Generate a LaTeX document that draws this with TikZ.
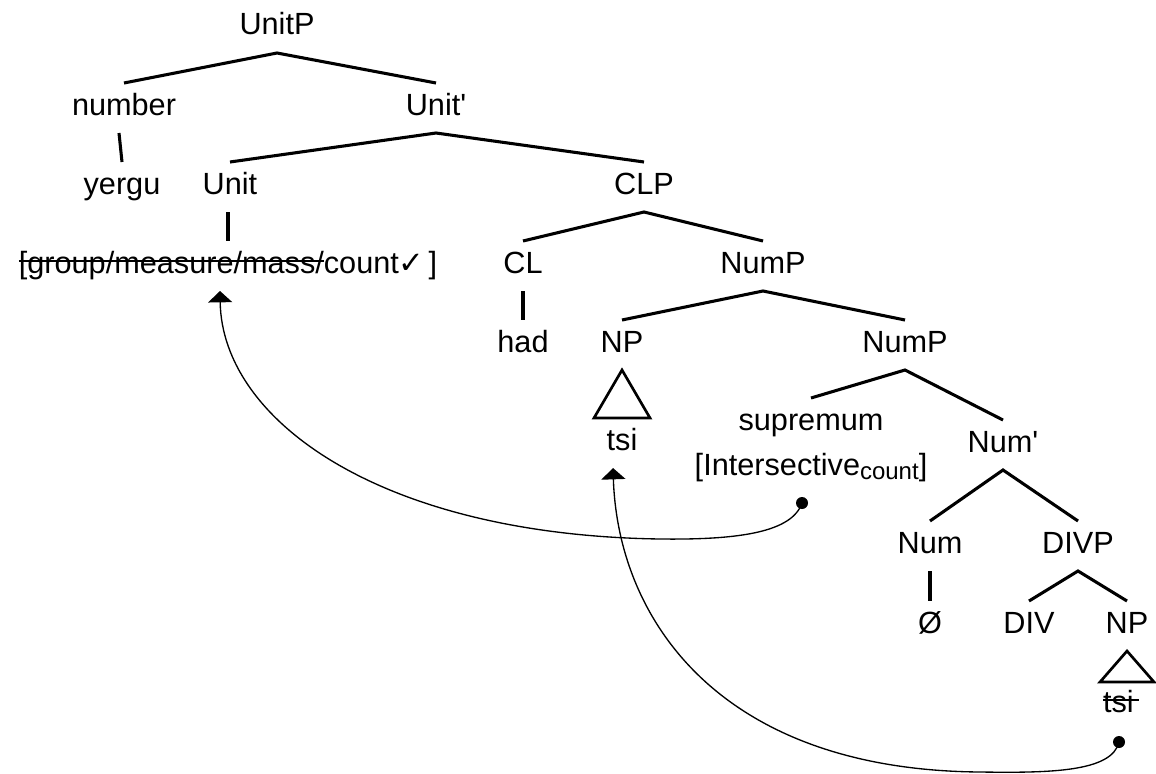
\documentclass[tikz,border=0pt]{standalone}
\usepackage{fontspec}
\setmainfont{Liberation Sans}
\newfontfamily\symfont{DejaVu Sans}
\usetikzlibrary{calc,arrows.meta}

% struck-through text: a rule laid over the box
\newcommand\struck[1]{\setbox0\hbox{#1}\rlap{\rule[0.36em]{\wd0}{1.5pt}}\box0}

\tikzset{
  lab/.style={font=\fontsize{23}{28}\selectfont, anchor=base,
    text height=16.5pt, text depth=6pt, inner ysep=7.5pt, inner xsep=1pt, outer sep=0pt},
  branch/.style={line width=2.3pt},
  tri/.style={line width=2pt, line join=miter},
  link/.style={line width=1pt, -{Triangle[width=18pt,length=8.5pt]}},
  dot/.style={fill=black}
}

\begin{document}
\begin{tikzpicture}[x=0.75pt, y=-0.75pt]
\useasboundingbox (0,0) rectangle (1156,774);

% labels (placed by baseline)
\node[lab] (UnitP)  at (277,35)  {UnitP};
\node[lab] (number) at (124,115) {number};
\node[lab] (Unitb)  at (436,115) {Unit\textquotesingle};
\node[lab] (yergu)  at (122,194) {yergu};
\node[lab] (Unit)   at (230,194) {Unit};
\node[lab] (CLP)    at (644,194) {CLP};
\node[lab] (feat)   at (228,273) {\struck{[group/measure/mass/}count{\symfont\bfseries ✓}\kern3pt]};
\node[lab] (CL)     at (523,273) {CL};
\node[lab] (NumP)   at (763,273) {NumP};
\node[lab] (had)    at (523,352) {had};
\node[lab] (NP)     at (622,352) {NP};
\node[lab] (NumPb)  at (905,352) {NumP};
\node[lab] (tsi)    at (622,450) {tsi};
\node[lab] (sup)    at (811,430) {supremum};
\node[lab] (inter)  at (811,475) {[Intersective{\fontsize{18}{20}\selectfont\raisebox{-3pt}{count}}]};
\node[lab] (Numb)   at (1003,452) {Num\textquotesingle};
\node[lab] (Num)    at (930,553) {Num};
\node[lab] (DIVP)   at (1078,553) {DIVP};
\node[lab] (null)   at (930,633) {Ø};
\node[lab] (DIV)    at (1029,633) {DIV};
\node[lab] (NPb)    at (1127,633) {NP};
\node[lab] (tsib)   at (1121,712) {\struck{tsi\kern4pt}};

% tree branches
\draw[branch] (number.north) -- (UnitP.south) -- (Unitb.north);
\draw[branch] ([xshift=-3.75pt]number.south) -- (yergu.north);
\draw[branch] (Unit.north) -- (Unitb.south) -- (CLP.north);
\draw[branch] ([xshift=-1.5pt]Unit.south) -- (feat.north);
\draw[branch] (CL.north) -- (CLP.south) -- (NumP.north);
\draw[branch] (CL.south) -- (had.north);
\draw[branch] (NP.north) -- (NumP.south) -- (NumPb.north);
\draw[branch] (sup.north) -- (NumPb.south) -- (Numb.north);
\draw[branch] (Num.north) -- (Numb.south) -- (DIVP.north);
\draw[branch] (Num.south) -- (null.north);
\draw[branch] (DIV.north) -- (DIVP.south) -- (NPb.north);

% triangles over unanalysed phrases
\draw[tri] (NP.south) -- ($(NP.south |- tsi.north)+(-28,0)$) -- ($(NP.south |- tsi.north)+(28,0)$) -- cycle;
\draw[tri] (NPb.south) -- ($(NPb.south |- tsib.north)+(-27,2)$) -- ($(NPb.south |- tsib.north)+(27,2)$) -- cycle;

% movement links
\coordinate (d1) at ($(inter.south)+(-9,10)$);
\coordinate (a1) at ($(feat.south)+(-8,0)$);
\coordinate (d2) at ($(tsib.south)+(-2,12)$);
\coordinate (a2) at ($(tsi.south)+(-9,0)$);

\draw[link] (d1) .. controls (792,532) and (740,540) .. (660,539)
                 .. controls (380,535) and (222,420) .. (a1);
\draw[link] (d2) .. controls (1112,772) and (1050,773) .. (980,772)
                 .. controls (720,770) and (618,620) .. (a2);
\fill[dot] (d1) circle (4.5pt);
\fill[dot] (d2) circle (4.5pt);
\end{tikzpicture}
\end{document}
